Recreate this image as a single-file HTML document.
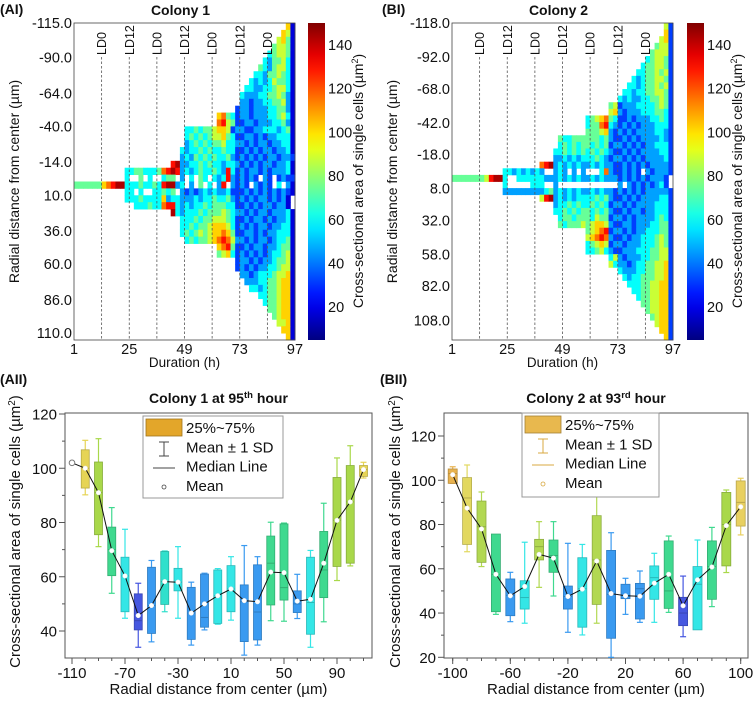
<!DOCTYPE html>
<html><head><meta charset="utf-8"><style>
html,body{margin:0;padding:0;background:#fff;}
svg{display:block;font-family:"Liberation Sans",Arial,sans-serif;}
</style></head><body>
<svg id="fig" width="755" height="701" viewBox="0 0 755 701" xmlns="http://www.w3.org/2000/svg">
<g id="hm1"></g>
<g id="hm2"></g>
<g id="bp1"></g>
<g id="bp2"></g>
</svg>
<script>
// ---------- Heatmap data (each row: [start column, level digits]; level -> value 18+14*d, '.' = empty)
const c1Rows = [
[46,"60"],[45,"650"],[44,"5640"],[43,"45540"],[42,"345540"],[41,"3244530"],[40,"43245530"],[39,"332445430"],
[38,"3232354430"],[37,"33223345530"],[36,"322233445420"],[36,"221223344520"],[35,"1221222334420"],
[31,"67431221222334530"],[31,"78541122122233420"],
[24,"334344566512211223332340"],
[24,"343434556431122121223330"],
[24,"234343445332212122122330"],
[23,"3233434334331121212212230"],
[23,"2324343433421212121221221"],
[21,"892233434332332121212212230"],
[11,"3344333478982323433432831212212122230"],
[11,"3..4.3..344.2.3.43.3238212121.21.1211"],
[0,"444444678993334334389923.2.4.3.28.2121.2121.3.20"],
[11,"33.3..33434.2121232322311121212121210"],
[11,"333433336233222323343342121212212120"],
[11,"..3334337883232334344433112121221220"],
[21,"932333434445432212122122230"],
[23,"3334344555431121221212230"],
[23,"3343445666531212122122330"],
[23,"3434545667641122121223330"],
[24,"343445678752212122123340"],
[31,"67841121221223440"],
[31,"45631212121233450"],
[35,"1221212234450"],[35,"1212122334550"],
[36,"221233345560"],[37,"22233445660"],[38,"3323445660"],[40,"33445660"],
[41,"3445660"],[42,"445660"],[43,"45660"],[44,"5560"],[45,"660"],[46,"60"]
];
const c2Rows = [
[46,"51"],[46,"61"],[45,"561"],[44,"4551"],[43,"45551"],[42,"345541"],[41,"3445541"],[40,"33445451"],
[39,"323445541"],[38,"3323445451"],[37,"33233445541"],[36,"323223344541"],
[34,"45122233334541"],[34,"56212223334431"],
[29,"3456743112122233431"],[29,"3447832121212223331"],[29,"4445621212122223321"],
[23,"4334444443421121212222321"],[23,"3434344343412212121223331"],
[22,"33434343434321121212222331"],[22,"22323233343212212121222231"],
[19,"78923232322323221121212122221"],
[11,"332323232..232.2.2...372112121.212221"],
[0,"444444458993..333333222323232232322212121212221"],
[11,"3.....333..2.............2.212121231"],
[11,"2222222223423232322323221212121222221"],
[19,"58923232333343421121212222331"],
[22,"23343433434312212122223331"],[22,"33434344343421121221223331"],
[23,"3443444354412212122223431"],[23,"4344454566521122122233441"],
[29,"4567812212122333441"],[29,"5678721121223334541"],[29,"3456512212223334541"],[29,"3345321122233344551"],
[34,"35212223344551"],[34,"53221233445561"],
[36,"322233445561"],[37,"32334445561"],[38,"3334455661"],[39,"334455661"],[40,"34455661"],
[41,"4455661"],[42,"455661"],[43,"45661"],[44,"5661"],[45,"661"],[46,"61"]
];
const c1YTicks = ["-115.0","-90.0","-64.0","-40.0","-14.0","10.0","36.0","60.0","86.0","110.0"];
const c1YTickVals = [-115,-90,-64,-40,-14,10,36,60,86,110];
const c2YTicks = ["-118.0","-92.0","-68.0","-42.0","-18.0","8.0","32.0","58.0","82.0","108.0"];
const c2YTickVals = [-118,-92,-68,-42,-18,8,32,58,82,108];
const hmXTicks = [1,25,49,73,97];
const ldHours = [13,25,37,49,61,73,85];
const ldLabels = ["LD0","LD12","LD0","LD12","LD0","LD12","LD0"];
const cbTicks = [20,40,60,80,100,120,140];

// ---------- Box plot data colony 1
const bp1Pos    = [-100,-90,-80,-70,-60,-50,-40,-30,-20,-10,0,10,20,30,40,50,60,70,80,90,100,110];
const bp1Low    = [90.2,71.1,53.9,44.7,34,36,47.1,44.7,34.8,40.4,42.5,44,31.1,34.8,43.8,43.6,44.6,34,43.4,58.6,64,96.4];
const bp1Q1     = [92.7,75.5,60.4,47.1,40.4,39.1,49.8,54.8,36.9,41.4,42.8,47.1,36.1,36.7,49.6,51.4,46.8,38.8,52.3,63.8,65,97];
const bp1Med    = [100,91,70,60.3,43.8,49.4,58.2,58,46.6,45,53,55.5,50.8,47,65,56,50,50.5,62.5,80.8,87.6,99.5];
const bp1Q3     = [106.8,102.3,78.3,67.2,53.7,63.5,69.3,63.1,56.1,61,62.5,64.1,57,64.4,75,79.5,54.8,67.2,76.7,96.6,101,101];
const bp1High   = [110.3,110.9,85.5,77.5,57.6,66,69.5,71.1,58,61.3,63,67.4,71.5,67.4,80.1,79.8,60.9,69.7,87.1,103.8,108.3,102.2];
const bp1Mean   = [100,91,69.6,60.3,45.7,49.4,58.2,58,46.6,50,53,55.5,51.2,50.8,61.7,61.5,51,51.7,65,80.8,87.6,99.5];
const bp1Color  = ["#e6d455","#a9d84a","#3fd98f","#34e6e6","#4657e0","#3a9af0","#30e0cc","#34e6e6","#3a9af0","#3a9af0","#34e6e6","#34e6e6","#3a9af0","#3a9af0","#3fd98f","#3fd98f","#3a9af0","#34e6e6","#3fd98f","#a9d84a","#a9d84a","#e6d455"];
const bp1ExtraPos = -110, bp1ExtraMean = 102;
const bp1XTicks = [-110,-70,-30,10,50,90];
const bp1YTicks = [40,60,80,100,120];

// ---------- Box plot data colony 2
const bp2Pos   = [-100,-90,-80,-70,-60,-50,-40,-30,-20,-10,0,10,20,30,40,50,60,70,80,90,100];
const bp2Low   = [98.6,67.7,61,39.4,36.1,35.4,51.6,47.7,31.3,30.1,35.4,20,39.4,35.8,35.8,40.3,29.3,36.1,42.9,58.3,75.3];
const bp2Q1    = [98.6,71,62.9,40.6,38.8,41.8,64,58.4,41.8,33.6,43.9,28.6,46.5,37.3,46.2,42.1,34.3,32.4,46.2,61.3,79.3];
const bp2Med   = [103,92,79,57.5,48,47,70,66,47.5,51,64,48.5,48,51,56,50,40,53,61,80,90];
const bp2Q3    = [105.1,101.2,90.6,75.7,55.4,54.6,73.3,73,52.2,65,84,68.3,53,53.4,61.3,72.6,47.1,61,72.6,94.5,99.7];
const bp2High  = [106.1,106.9,94.7,75.3,58.4,72,81.3,81.3,71.5,71,92.6,76.3,55.7,59,67,74.8,56.7,73,78.7,95.6,100.9];
const bp2Mean  = [102.5,87.4,78,57.5,47.8,52,66.5,64.8,47.5,50.8,63.5,48.8,47.8,47.6,53.5,57.5,43.3,55,60.8,79.5,88];
const bp2Color = ["#e8b24e","#e2d860","#b2d852","#3fd98f","#3a9af0","#34e6e6","#b2d852","#3fd98f","#3a9af0","#34e6e6","#b2d852","#3a9af0","#3a9af0","#3a9af0","#34e6e6","#3fd98f","#4657e0","#34e6e6","#3fd98f","#a9d84a","#e8d060"];
const bp2XTicks = [-100,-60,-20,20,60,100];
const bp2YTicks = [20,40,60,80,100,120];

const NS = "http://www.w3.org/2000/svg";
function mk(tag, attrs, parent){const e=document.createElementNS(NS,tag);for(const k in attrs)e.setAttribute(k,attrs[k]);parent.appendChild(e);return e;}
function txt(str, attrs, parent){const e=mk("text",attrs,parent);e.textContent=str;return e;}
function clamp(v){return Math.max(0,Math.min(1,v));}
function jet(val){const v=(val-5)/145;const r=clamp(1.5-Math.abs(4*v-3)),g=clamp(1.5-Math.abs(4*v-2)),b=clamp(1.5-Math.abs(4*v-1));return "rgb("+Math.round(r*255)+","+Math.round(g*255)+","+Math.round(b*255)+")";}

function heatmap(gid, rows, x0, yTop, yBot, rMin, rMax, yTicks, yTickVals, panel, title, cbx){
  const g=document.getElementById(gid);
  const W=221, H=yBot-yTop, ncol=48, nrow=rows.length;
  const cw=W/ncol, rh=H/nrow;
  const xT=t=>x0+(t-1)*W/96;
  const yR=v=>yTop+(v-rMin)*H/(rMax-rMin);
  rows.forEach((row,r)=>{
    const start=row[0], s=row[1].slice(0,ncol-row[0]);
    for(let i=0;i<s.length;i++){
      const ch=s[i]; if(ch==='.'||ch===' ')continue;
      const val=18+14*parseInt(ch);
      const c=mk("rect",{x:(x0+(start+i)*cw).toFixed(2),y:(yTop+r*rh).toFixed(2),width:(cw+0.4).toFixed(2),height:(rh+0.4).toFixed(2),fill:jet(val)},g);
      
      
    }
  });
  ldHours.forEach((h,i)=>{
    const x=xT(h);
    const l=mk("line",{x1:x,y1:57,x2:x,y2:yBot,stroke:"#555","stroke-width":0.8,"stroke-dasharray":"2.5,2"},g);
    
    
    const t=txt(ldLabels[i],{x:x+4.5,y:55,"font-size":12.5,transform:"rotate(-90 "+(x+4.5)+" 55)",fill:"#111"},g);
    
    
  });
  const fr=mk("rect",{x:x0,y:yTop,width:W,height:H,fill:"none",stroke:"#444","stroke-width":0.8},g);
  
  
  yTicks.forEach((lab,i)=>{
    const y=yR(yTickVals[i]);
    const t=txt(lab,{x:x0-2,y:y+5,"font-size":14.5,"text-anchor":"end",fill:"#111"},g);
    
    
  });
  hmXTicks.forEach(h=>{
    const t=txt(String(h),{x:xT(h),y:354,"font-size":14.5,"text-anchor":"middle",fill:"#111"},g);
    
    
  });
  const xl=txt("Duration (h)",{x:x0+W/2,y:367,"font-size":13.5,"text-anchor":"middle",fill:"#111"},g);
  
  
  const yx=x0-55, yc=(yTop+yBot)/2;
  const yl=txt("Radial distance from center (µm)",{x:yx,y:yc,"font-size":14,"text-anchor":"middle",transform:"rotate(-90 "+yx+" "+yc+")",fill:"#111"},g);
  
  
  const tt=txt(title,{x:x0+W/2-4,y:15,"font-size":14,"font-weight":"bold","text-anchor":"middle",fill:"#111"},g);
  
  
  const pl=txt(panel,{x:panel==="(AI)"?0:382,y:14,"font-size":14,"font-weight":"bold",fill:"#111"},g);
  
  
  const defsId="grad"+gid;
  const defs=mk("defs",{},g);
  const gr=mk("linearGradient",{id:defsId,x1:0,y1:1,x2:0,y2:0},defs);
  for(let i=0;i<=20;i++){const v=5+145*i/20;mk("stop",{offset:(i/20),"stop-color":jet(v)},gr);}
  const cb=mk("rect",{x:cbx,y:23,width:17,height:317,fill:"url(#"+defsId+")"},g);
  
  
  const cbY=v=>340-(v-5)*317/145;
  cbTicks.forEach(v=>{
    const t=txt(String(v),{x:cbx+20,y:cbY(v)+5,"font-size":14.5,fill:"#111"},g);
    
    
  });
  const lx=cbx+55, ly=181;
  const cl=mk("text",{x:lx,y:ly,"font-size":14,"text-anchor":"middle",transform:"rotate(-90 "+lx+" "+ly+")",fill:"#111"},g);
  cl.innerHTML='Cross-sectional area of single cells (µm<tspan dy="-5" font-size="9">2</tspan><tspan dy="5">)</tspan>';
  
  
}
heatmap("hm1",c1Rows,74,23,340,-115,115,c1YTicks,c1YTickVals,"(AI)","Colony 1",308);
heatmap("hm2",c2Rows,452,23,340,-118,123,c2YTicks,c2YTickVals,"(BI)","Colony 2",687);
function darker(hex,f){const n=parseInt(hex.slice(1),16);let r=(n>>16)&255,g=(n>>8)&255,b=n&255;return "rgb("+Math.round(r*f)+","+Math.round(g*f)+","+Math.round(b*f)+")";}

function boxplot(gid,cfg){
  const g=document.getElementById(gid);
  const {fx0,fx1,fy0,fy1,xS,yS,pos,low,q1,med,q3,high,mean,color,xTicks,yTicks,minorX,bw,sup,pre,panel,px,legend}=cfg;
  const fr=mk("rect",{x:fx0,y:fy0,width:fx1-fx0,height:fy1-fy0,fill:"none",stroke:"#555","stroke-width":1},g);
  
  
  pos.forEach((p,i)=>{
    const x=xS(p), c=color[i], dk=darker(c,0.8);
    const w1=mk("line",{x1:x,y1:yS(high[i]),x2:x,y2:yS(q3[i]),stroke:c,"stroke-width":1.2},g);
    
    
    const w2=mk("line",{x1:x,y1:yS(q1[i]),x2:x,y2:yS(low[i]),stroke:c,"stroke-width":1.2},g);
    
    
    const k1=mk("line",{x1:x-3,y1:yS(high[i]),x2:x+3,y2:yS(high[i]),stroke:c,"stroke-width":1.2},g);
    
    
    const k2=mk("line",{x1:x-3,y1:yS(low[i]),x2:x+3,y2:yS(low[i]),stroke:c,"stroke-width":1.2},g);
    
    
    const b=mk("rect",{x:x-bw/2,y:yS(q3[i]),width:bw,height:Math.max(1,yS(q1[i])-yS(q3[i])),fill:c,stroke:dk,"stroke-width":0.8},g);
    
    
    const m=mk("line",{x1:x-bw/2,y1:yS(med[i]),x2:x+bw/2,y2:yS(med[i]),stroke:dk,"stroke-width":1},g);
    
    
  });
  let pts=[];
  if(cfg.extraPos!==undefined)pts.push([xS(cfg.extraPos),yS(cfg.extraMean)]);
  pos.forEach((p,i)=>pts.push([xS(p),yS(mean[i])]));
  const pl=mk("polyline",{points:pts.map(p=>p[0].toFixed(1)+","+p[1].toFixed(1)).join(" "),fill:"none",stroke:"#111","stroke-width":1},g);
  
  
  if(cfg.extraPos!==undefined){
    const e=mk("circle",{cx:xS(cfg.extraPos),cy:yS(cfg.extraMean),r:2.8,fill:"#fff",stroke:"#777","stroke-width":1},g);
    
    
  }
  pos.forEach((p,i)=>{
    const c=mk("circle",{cx:xS(p),cy:yS(mean[i]),r:2.3,fill:"#fff",stroke:"#eee","stroke-width":0.5},g);
    
    
  });
  minorX.forEach(v=>{
    const t=mk("line",{x1:xS(v),y1:fy1,x2:xS(v),y2:fy1+3,stroke:"#555","stroke-width":1},g);
    
    
  });
  xTicks.forEach(v=>{
    const t=mk("line",{x1:xS(v),y1:fy1,x2:xS(v),y2:fy1+6,stroke:"#555","stroke-width":1},g);
    
    
    const l=txt(String(v),{x:xS(v),y:fy1+20,"font-size":15,"text-anchor":"middle",fill:"#111"},g);
    
    
  });
  yTicks.forEach((v,i)=>{
    const t=mk("line",{x1:fx0-6,y1:yS(v),x2:fx0,y2:yS(v),stroke:"#555","stroke-width":1},g);
    
    
    const l=txt(String(v),{x:fx0-8,y:yS(v)+5.5,"font-size":15,"text-anchor":"end",fill:"#111"},g);
    
    
    if(i<yTicks.length-1){const mv=v+10;const mt=mk("line",{x1:fx0-3,y1:yS(mv),x2:fx0,y2:yS(mv),stroke:"#555","stroke-width":1},g);
      
      }
  });
  const cx=(fx0+fx1)/2;
  const xl=mk("text",{x:cx,y:694,"font-size":15,"text-anchor":"middle",fill:"#111"},g);
  xl.textContent="Radial distance from center (µm)";
  
  
  const yx=px+20, yc=(fy0+fy1)/2-4;
  const yl=mk("text",{x:yx,y:yc,"font-size":15,"text-anchor":"middle",transform:"rotate(-90 "+yx+" "+yc+")",fill:"#111"},g);
  yl.innerHTML='Cross-sectional area of single cells (µm<tspan dy="-5" font-size="10">2</tspan><tspan dy="5">)</tspan>';
  
  
  const tt=mk("text",{x:cx,y:403,"font-size":14,"font-weight":"bold","text-anchor":"middle",fill:"#111"},g);
  tt.innerHTML=pre+'<tspan dy="-5" font-size="9.5">'+sup+'</tspan><tspan dy="5"> hour</tspan>';
  
  
  const pn=txt(panel,{x:px,y:384,"font-size":14,"font-weight":"bold",fill:"#111"},g);
  
  
  const L=legend;
  const lg=mk("g",{},g);
  
  
  mk("rect",{x:L.x,y:L.y,width:L.w,height:L.h,fill:"#fff",stroke:"#999","stroke-width":1},lg);
  const sw=mk("rect",{x:L.x+3,y:L.y+3,width:36,height:17,fill:L.fill,stroke:darker(L.fill,0.7),"stroke-width":0.8},lg);
  
  
  const ix=L.x+21;
  mk("line",{x1:ix,y1:L.y+26,x2:ix,y2:L.y+40,stroke:L.wc,"stroke-width":1},lg);
  mk("line",{x1:ix-5,y1:L.y+26,x2:ix+5,y2:L.y+26,stroke:L.wc,"stroke-width":1},lg);
  mk("line",{x1:ix-5,y1:L.y+40,x2:ix+5,y2:L.y+40,stroke:L.wc,"stroke-width":1},lg);
  mk("line",{x1:ix-11,y1:L.y+52,x2:ix+11,y2:L.y+52,stroke:L.wc,"stroke-width":1},lg);
  mk("circle",{cx:ix,cy:L.y+71,r:2,fill:"#fff",stroke:L.wc,"stroke-width":0.8},lg);
  const labs=["25%~75%","Mean ± 1 SD","Median Line","Mean"];
  labs.forEach((s,i)=>{
    const t=txt(s,{x:L.x+43,y:L.y+17+i*19.3,"font-size":15,fill:"#111"},lg);
    
    
  });
}
const minor1=[];for(let v=-110;v<=110;v+=10)minor1.push(v);
const minor2=[];for(let v=-100;v<=100;v+=10)minor2.push(v);
boxplot("bp1",{fx0:65,fx1:372,fy0:413,fy1:658,xS:v=>72+(v+110)*1.325,yS:v=>414+(120-v)*2.7125,
  pos:bp1Pos,low:bp1Low,q1:bp1Q1,med:bp1Med,q3:bp1Q3,high:bp1High,mean:bp1Mean,color:bp1Color,
  xTicks:bp1XTicks,yTicks:bp1YTicks,minorX:minor1,bw:8,pre:"Colony 1 at 95",sup:"th",panel:"(AII)",px:0,
  extraPos:bp1ExtraPos,extraMean:bp1ExtraMean,
  legend:{x:143,y:416,w:140,h:82,fill:"#e3a62a",wc:"#444"}});
boxplot("bp2",{fx0:444,fx1:748,fy0:413,fy1:658,xS:v=>452.7+(v+100)*1.44,yS:v=>436+(120-v)*2.213,
  pos:bp2Pos,low:bp2Low,q1:bp2Q1,med:bp2Med,q3:bp2Q3,high:bp2High,mean:bp2Mean,color:bp2Color,
  xTicks:bp2XTicks,yTicks:bp2YTicks,minorX:minor2,bw:9,pre:"Colony 2 at 93",sup:"rd",panel:"(BII)",px:380,
  legend:{x:522,y:413,w:137,h:84,fill:"#e8b84e",wc:"#d8a840"}});
</script>
</body></html>
